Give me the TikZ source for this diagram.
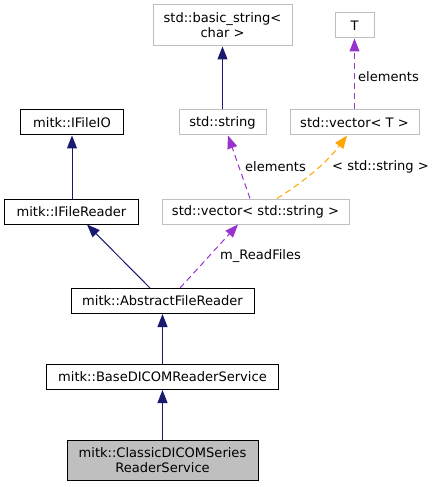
\documentclass[tikz,border=0pt]{standalone}
\usepackage{fontspec}
\setmainfont{DejaVu Sans}
\usetikzlibrary{arrows.meta}
\definecolor{navy}{HTML}{191970}
\definecolor{orchid}{HTML}{9A32CD}
\definecolor{orng}{HTML}{FFA500}
\definecolor{grayb}{HTML}{BFBFBF}
\begin{document}
\begin{tikzpicture}[x=1bp,y=-1bp,
  every node/.style={font=\fontsize{13.1}{15}\selectfont},
  blk/.style={draw=black, line width=1bp, inner sep=0, minimum height=25bp, align=center},
  gry/.style={draw=grayb, line width=1bp, inner sep=0, minimum height=25bp, align=center},
  inh/.style={draw=navy, line width=1bp, -{Triangle[length=13bp,width=10bp]}},
  usage/.style={draw=orchid, line width=1bp, dash pattern=on 6bp off 4bp, -{Triangle[length=13bp,width=10bp]}},
  tmpl/.style={draw=orng, line width=1bp, dash pattern=on 6bp off 4bp, -{Triangle[length=13bp,width=10bp]}},
  lbl/.style={anchor=west, inner sep=0}
]
\useasboundingbox (0,0) rectangle (432,487);
% nodes
\node[gry, minimum width=139bp, minimum height=41bp] (bs) at (222.5,25.5) {std::basic\_string<\\char >};
\node[gry, minimum width=39bp] (T) at (354.5,25.5) {T};
\node[blk, minimum width=102bp] (io) at (72,122.5) {mitk::IFileIO};
\node[gry, minimum width=87bp] (str) at (222.5,122.5) {std::string};
\node[gry, minimum width=129bp] (vt) at (354.5,122.5) {std::vector< T >};
\node[blk, minimum width=133bp] (fr) at (71.5,211.5) {mitk::IFileReader};
\node[gry, minimum width=187bp] (vs) at (255.5,211.5) {std::vector< std::string >};
\node[blk, minimum width=183bp] (afr) at (162.5,301) {mitk::AbstractFileReader};
\node[blk, minimum width=231bp] (base) at (162.5,377) {mitk::BaseDICOMReaderService};
\node[blk, fill=grayb, minimum width=191bp, minimum height=40bp] (cls) at (162.5,460) {mitk::ClassicDICOMSeries\\ReaderService};
% edges
\draw[inh] (fr.north -| io.south) -- (io.south);
\draw[inh] (str.north) -- (bs.south);
\draw[usage] (vt.north) -- (T.south);
\draw[usage] ([xshift=-5.5bp]vs.north) -- ([xshift=5.5bp]str.south);
\draw[tmpl] ([xshift=21.5bp]vs.north) .. controls (300,184) and (325,165) .. ([xshift=-7.5bp]vt.south);
\draw[inh] ([xshift=-12.5bp]afr.north) -- ([xshift=15.5bp]fr.south);
\draw[usage] ([xshift=17.5bp]afr.north) -- ([xshift=-17.5bp]vs.south);
\draw[inh] (base.north) -- (afr.south);
\draw[inh] (cls.north) -- (base.south);
% labels
\node[lbl] (l1) at (358,77) {elements};
\node[lbl] (l2) at (245,167) {elements};
\node[lbl] (l3) at (332,167) {< std::string >};
\node[lbl] (l4) at (220,256) {m\_ReadFiles};
\end{tikzpicture}
\end{document}
